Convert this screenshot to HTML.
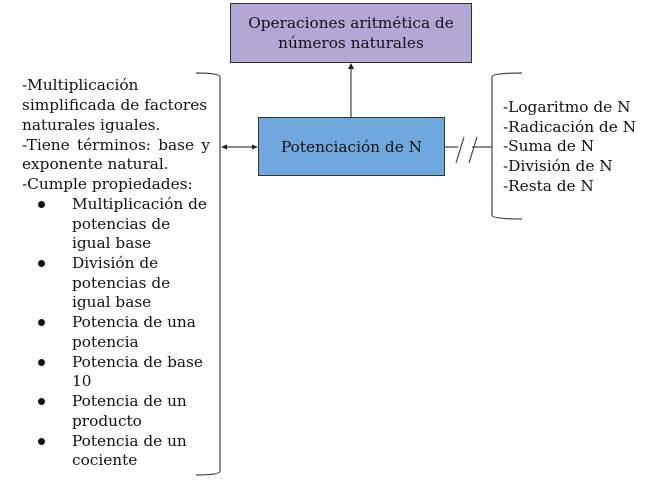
<!DOCTYPE html>
<html><head><meta charset="utf-8"><style>
body{margin:0;width:655px;height:483px;background:#fff;position:relative;overflow:hidden;font-family:"DejaVu Serif","Liberation Serif",serif;font-size:15.3px;color:#111}
.l{position:absolute;white-space:nowrap;line-height:20px}
.b{position:absolute;width:7px;height:7px;border-radius:50%;background:#111}
.box{position:absolute;border:1px solid #333;box-sizing:border-box;display:flex;align-items:center;justify-content:center;text-align:center;line-height:20px}
</style></head><body>
<div class="box" style="left:230px;top:3px;width:242px;height:60px;background:#b4a7d6">Operaciones aritmética de<br>números naturales</div>
<div class="box" style="left:258px;top:117px;width:187px;height:59px;background:#6fa8dc">Potenciación de N</div>
<svg width="655" height="483" style="position:absolute;left:0;top:0" fill="none" stroke="#444" stroke-width="1.2">
<line x1="351" y1="117" x2="351" y2="68"/><polygon points="351,63 348,69 354,69" fill="#222" stroke="none"/>
<line x1="225" y1="147" x2="253" y2="147"/><polygon points="221,147 227,144.5 227,149.5" fill="#222" stroke="none"/><polygon points="258,147 252,144.5 252,149.5" fill="#222" stroke="none"/>
<path d="M196,73 Q220,73 220,77 L220,471 Q220,475 196,475"/>
<path d="M522,73 Q492,73 492,77 L492,215 Q492,219 522,219"/>
<line x1="445" y1="147" x2="458" y2="147"/><line x1="472" y1="147" x2="492" y2="147"/>
<line x1="456" y1="163" x2="464" y2="137"/><line x1="469" y1="163" x2="477" y2="137"/>
</svg>
<div class="l" style="left:22px;top:75px">-Multiplicación</div>
<div class="l" style="left:22px;top:95px">simplificada de factores</div>
<div class="l" style="left:22px;top:115px">naturales iguales.</div>
<div class="l" style="left:22px;top:135px;width:188px;text-align:justify;text-align-last:justify">-Tiene términos: base y</div>
<div class="l" style="left:22px;top:154px">exponente natural.</div>
<div class="l" style="left:22px;top:174px">-Cumple propiedades:</div>
<div class="b" style="left:38px;top:201px"></div><div class="l" style="left:72px;top:194px">Multiplicación de</div>
<div class="l" style="left:72px;top:214px">potencias de</div>
<div class="l" style="left:72px;top:233px">igual base</div>
<div class="b" style="left:38px;top:260px"></div><div class="l" style="left:72px;top:253px">División de</div>
<div class="l" style="left:72px;top:273px">potencias de</div>
<div class="l" style="left:72px;top:292px">igual base</div>
<div class="b" style="left:38px;top:319px"></div><div class="l" style="left:72px;top:312px">Potencia de una</div>
<div class="l" style="left:72px;top:332px">potencia</div>
<div class="b" style="left:38px;top:359px"></div><div class="l" style="left:72px;top:352px">Potencia de base</div>
<div class="l" style="left:72px;top:371px">10</div>
<div class="b" style="left:38px;top:398px"></div><div class="l" style="left:72px;top:391px">Potencia de un</div>
<div class="l" style="left:72px;top:411px">producto</div>
<div class="b" style="left:38px;top:438px"></div><div class="l" style="left:72px;top:431px">Potencia de un</div>
<div class="l" style="left:72px;top:450px">cociente</div>
<div class="l" style="left:503px;top:97px">-Logaritmo de N</div>
<div class="l" style="left:503px;top:117px">-Radicación de N</div>
<div class="l" style="left:503px;top:136px">-Suma de N</div>
<div class="l" style="left:503px;top:156px">-División de N</div>
<div class="l" style="left:503px;top:176px">-Resta de N</div>
</body></html>
